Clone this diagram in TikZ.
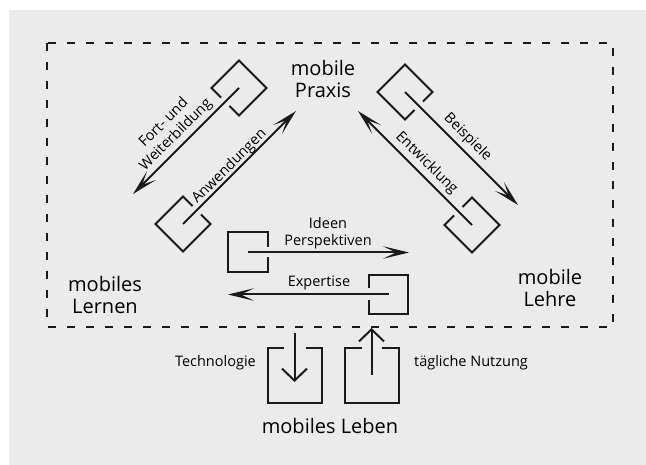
\documentclass[tikz,border=0pt]{standalone}
\usepackage{fontspec}
\setmainfont{Open Sans}
\usetikzlibrary{arrows.meta}

\definecolor{panel}{RGB}{235,235,236}
\definecolor{ink}{RGB}{26,26,26}

\tikzset{
  inkline/.style={draw=ink, line width=2pt},
  flow/.style={inkline, -{Stealth[length=26pt,width=12.5pt,inset=13pt]}},
  vflow/.style={inkline, -{Straight Barb[length=12pt,width=25pt]}},
  frame/.style={draw=ink, line width=2pt, dash pattern=on 8pt off 11pt},
  big/.style={font=\fontsize{20}{22}\selectfont, align=center, inner sep=0pt},
  small/.style={font=\fontsize{14.5}{17}\selectfont, align=center, inner sep=0pt},
  % square outline of half-size #1, open on its +x side over +-#2
  pics/hookbox/.style 2 args={code={
    \draw[inkline, line join=miter] (#1,#2) -- (#1,#1) -- (-#1,#1) -- (-#1,-#1) -- (#1,-#1) -- (#1,-#2);
  }},
}

\begin{document}
\begin{tikzpicture}[x=1pt, y=-1pt]
  \useasboundingbox (0,0) rectangle (646,465);
  \fill[panel] (9,10) rectangle (646,465);
  \draw[frame] (47,43) rectangle (613,327);

  % corner labels
  \node[big] (praxis) at (323,79) {mobile\\Praxis};
  \node[big] (lernen) at (105,295) {mobiles\\Lernen};
  \node[big] (lehre)  at (550,288) {mobile\\Lehre};
  \node[big, anchor=base] (leben) at (330,433) {mobiles Leben};

  % box centres and arrow ends
  \coordinate (cFort) at (239,88);   \coordinate (tFort) at (133,194);
  \coordinate (cAnw)  at (183,224);  \coordinate (tAnw)  at (296,111);
  \coordinate (cBei)  at (405,92);   \coordinate (tBei)  at (518,205);
  \coordinate (cEnt)  at (472,225);  \coordinate (tEnt)  at (358,111);
  \coordinate (cIdee) at (247.5,252.5); \coordinate (tIdee) at (409,252.5);
  \coordinate (cExp)  at (388.5,294.5); \coordinate (tExp)  at (228,294.5);
  \coordinate (cTech) at (294.5,375.5);
  \coordinate (sTech) at (294.5,333); \coordinate (tTech) at (294.5,382);
  \coordinate (cUse)  at (371.5,375.5); \coordinate (tUse) at (371.5,328);

  % open boxes
  \pic[rotate=225] at (cFort) {hookbox={19.5}{6}};
  \pic[rotate=45]  at (cAnw)  {hookbox={19.5}{6}};
  \pic[rotate=-45] at (cBei)  {hookbox={19.5}{6}};
  \pic[rotate=135] at (cEnt)  {hookbox={19.5}{6}};
  \pic at (cIdee) {hookbox={20}{5}};
  \pic[rotate=180] at (cExp) {hookbox={19.5}{6}};
  \pic[rotate=90] at (cTech) {hookbox={27}{11}};
  \pic[rotate=90] at (cUse)  {hookbox={27}{10}};

  % arrows
  \draw[flow] (cFort) -- (tFort);
  \draw[flow] (cAnw)  -- (tAnw);
  \draw[flow] (cBei)  -- (tBei);
  \draw[flow] (cEnt)  -- (tEnt);
  \draw[flow] (cIdee) -- (tIdee);
  \draw[flow] (cExp)  -- (tExp);
  \draw[vflow] (sTech) -- (tTech);
  \draw[vflow] (cUse)  -- (tUse);

  % arrow labels
  \node[small, rotate=45]  (lFort) at (170,129) {Fort- und\\Weiterbildung};
  \node[small, rotate=45]  (lAnw)  at (229.5,166.5) {Anwendungen};
  \node[small, rotate=-45] (lBei)  at (467.5,137.5) {Beispiele};
  \node[small, rotate=-45] (lEnt)  at (426.5,163) {Entwicklung};
  \node[small] (lIdee) at (328,233) {Ideen\\Perspektiven};
  \node[small] (lExp)  at (319,283) {Expertise};
  \node[small, anchor=east] (lTech) at (256,363) {Technologie};
  \node[small, anchor=west] (lUse)  at (414,363) {tägliche Nutzung};
\end{tikzpicture}
\end{document}
